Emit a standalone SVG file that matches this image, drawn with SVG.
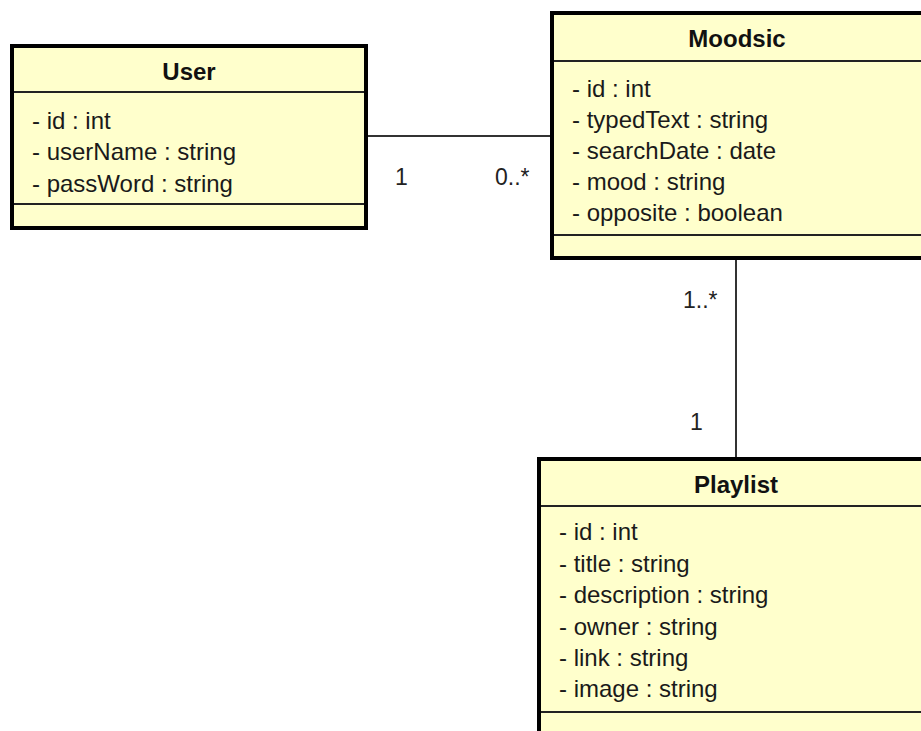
<svg xmlns="http://www.w3.org/2000/svg" width="921" height="731" viewBox="0 0 921 731">
  <style>
    .box { fill: #ffffcc; stroke: #000; stroke-width: 4; }
    .sep { stroke: #222; stroke-width: 2; fill: none; }
    .title { font-family: "Liberation Sans", Arial, sans-serif; font-size: 24px; font-weight: bold; fill: #111; text-anchor: middle; }
    .attr { font-family: "Liberation Sans", Arial, sans-serif; font-size: 24px; fill: #1a1a1a; }
    .mult { font-family: "Liberation Sans", Arial, sans-serif; font-size: 23px; fill: #222; }
    .link { stroke: #333; stroke-width: 2; fill: none; }
  </style>
  <rect width="921" height="731" fill="#fff"/>

  <g id="connectors">
    <line class="link" x1="368" y1="136" x2="550" y2="136"/>
    <line class="link" x1="736" y1="260" x2="736" y2="457"/>
    <text class="mult" x="395" y="185">1</text>
    <text class="mult" x="495" y="185">0..*</text>
    <text class="mult" x="683" y="308">1..*</text>
    <text class="mult" x="690" y="430">1</text>
  </g>

  <g id="user">
    <rect class="box" x="12" y="46" width="354" height="182"/>
    <line class="sep" x1="14" y1="92" x2="364" y2="92"/>
    <line class="sep" x1="14" y1="204" x2="364" y2="204"/>
    <text class="title" x="189" y="80">User</text>
    <text class="attr" x="32" y="129">- id : int</text>
    <text class="attr" x="32" y="160">- userName : string</text>
    <text class="attr" x="32" y="192">- passWord : string</text>
  </g>

  <g id="moodsic">
    <rect class="box" x="552" y="13" width="380" height="245"/>
    <line class="sep" x1="554" y1="61" x2="930" y2="61"/>
    <line class="sep" x1="554" y1="235" x2="930" y2="235"/>
    <text class="title" x="737" y="47">Moodsic</text>
    <text class="attr" x="572" y="97">- id : int</text>
    <text class="attr" x="572" y="128">- typedText : string</text>
    <text class="attr" x="572" y="159">- searchDate : date</text>
    <text class="attr" x="572" y="190">- mood : string</text>
    <text class="attr" x="572" y="221">- opposite : boolean</text>
  </g>

  <g id="playlist">
    <rect class="box" x="539" y="459" width="400" height="300"/>
    <line class="sep" x1="541" y1="506" x2="937" y2="506"/>
    <line class="sep" x1="541" y1="712" x2="937" y2="712"/>
    <text class="title" x="736" y="493">Playlist</text>
    <text class="attr" x="559" y="540">- id : int</text>
    <text class="attr" x="559" y="572">- title : string</text>
    <text class="attr" x="559" y="603">- description : string</text>
    <text class="attr" x="559" y="635">- owner : string</text>
    <text class="attr" x="559" y="666">- link : string</text>
    <text class="attr" x="559" y="697">- image : string</text>
  </g>
</svg>
